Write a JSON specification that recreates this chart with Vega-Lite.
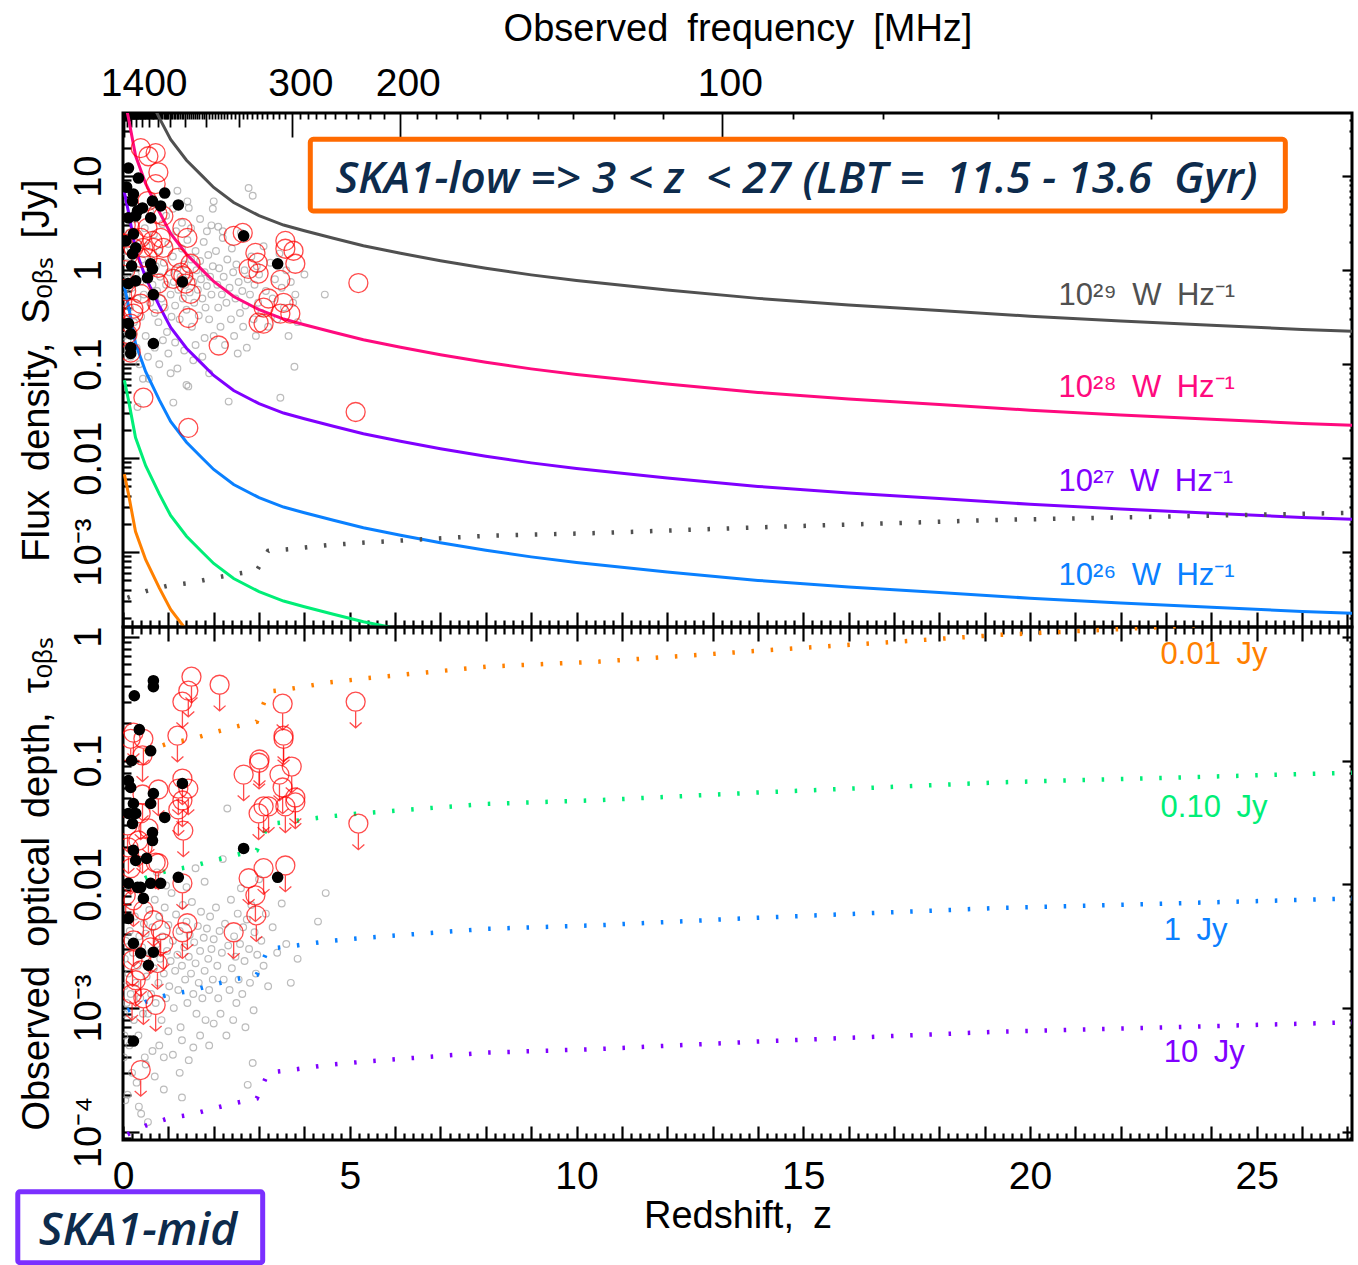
{
"$schema": "https://vega.github.io/schema/vega-lite/v6.json",
"background": "white",
"padding": {"left": 13, "top": 8, "right": 0, "bottom": 0},
"resolve": {"scale": {"color": "independent"}},
"config": {
  "font": "Liberation Sans",
  "view": {"stroke": "black", "strokeWidth": 3},
  "axis": {"domain": false, "grid": false, "labelFont": "Liberation Sans", "titleFont": "Liberation Sans", "labelFontSize": 39, "titleFontSize": 38, "titleFontWeight": "normal", "labelColor": "black", "titleColor": "black", "tickColor": "black", "tickWidth": 2.2, "labelOverlap": false, "labelFlush": false, "labelBound": false, "labelLimit": 0}
},
"datasets": {
  "curves": [
    {"z":0.03,"L29":676.1,"L28":67.61,"L27":6.761,"L26":0.6761,"L25":0.06761,"L24":0.006761},
    {"z":0.12,"L29":416.9,"L28":41.69,"L27":4.169,"L26":0.4169,"L25":0.04169,"L24":0.004169},
    {"z":0.276,"L29":166.0,"L28":16.60,"L27":1.660,"L26":0.1660,"L25":0.01660,"L24":0.001660},
    {"z":0.5,"L29":83.18,"L28":8.318,"L27":0.8318,"L26":0.08318,"L25":0.008318,"L24":0.0008318},
    {"z":0.8,"L29":41.69,"L28":4.169,"L27":0.4169,"L26":0.04169,"L25":0.004169,"L24":0.0004169},
    {"z":1.05,"L29":24.55,"L28":2.455,"L27":0.2455,"L26":0.02455,"L25":0.002455,"L24":0.0002455},
    {"z":1.4,"L29":14.79,"L28":1.479,"L27":0.1479,"L26":0.01479,"L25":0.001479,"L24":0.0001479},
    {"z":1.75,"L29":10,"L28":1,"L27":0.1,"L26":0.01,"L25":0.001,"L24":0.0001},
    {"z":2.0,"L29":7.586,"L28":0.7586,"L27":0.07586,"L26":0.007586,"L25":0.0007586,"L24":0.00007586},
    {"z":2.44,"L29":5.248,"L28":0.5248,"L27":0.05248,"L26":0.005248,"L25":0.0005248,"L24":0.00005248},
    {"z":3.0,"L29":3.802,"L28":0.3802,"L27":0.03802,"L26":0.003802,"L25":0.0003802,"L24":0.00003802},
    {"z":3.54,"L29":3.020,"L28":0.3020,"L27":0.03020,"L26":0.003020,"L25":0.0003020,"L24":0.00003020},
    {"z":4.0,"L29":2.630,"L28":0.2630,"L27":0.02630,"L26":0.002630,"L25":0.0002630,"L24":0.00002630},
    {"z":4.64,"L29":2.188,"L28":0.2188,"L27":0.02188,"L26":0.002188,"L25":0.0002188,"L24":0.00002188},
    {"z":5.3,"L29":1.820,"L28":0.1820,"L27":0.01820,"L26":0.001820,"L25":0.0001820,"L24":0.00001820},
    {"z":6.12,"L29":1.514,"L28":0.1514,"L27":0.01514,"L26":0.001514,"L25":0.0001514,"L24":0.00001514},
    {"z":7,"L29":1.259,"L28":0.1259,"L27":0.01259,"L26":0.001259,"L25":0.0001259,"L24":0.00001259},
    {"z":8,"L29":1.047,"L28":0.1047,"L27":0.01047,"L26":0.001047,"L25":0.0001047,"L24":0.00001047},
    {"z":9,"L29":0.8913,"L28":0.08913,"L27":0.008913,"L26":0.0008913,"L25":0.00008913,"L24":0.000008913},
    {"z":10,"L29":0.7762,"L28":0.07762,"L27":0.007762,"L26":0.0007762,"L25":0.00007762,"L24":0.000007762},
    {"z":12,"L29":0.6166,"L28":0.06166,"L27":0.006166,"L26":0.0006166,"L25":0.00006166,"L24":0.000006166},
    {"z":14,"L29":0.5012,"L28":0.05012,"L27":0.005012,"L26":0.0005012,"L25":0.00005012,"L24":0.000005012},
    {"z":16,"L29":0.4266,"L28":0.04266,"L27":0.004266,"L26":0.0004266,"L25":0.00004266,"L24":0.000004266},
    {"z":18,"L29":0.3715,"L28":0.03715,"L27":0.003715,"L26":0.0003715,"L25":0.00003715,"L24":0.000003715},
    {"z":20,"L29":0.3236,"L28":0.03236,"L27":0.003236,"L26":0.0003236,"L25":0.00003236,"L24":0.000003236},
    {"z":22,"L29":0.2884,"L28":0.02884,"L27":0.002884,"L26":0.0002884,"L25":0.00002884,"L24":0.000002884},
    {"z":24,"L29":0.2600,"L28":0.02600,"L27":0.002600,"L26":0.0002600,"L25":0.00002600,"L24":0.000002600},
    {"z":26,"L29":0.2344,"L28":0.02344,"L27":0.002344,"L26":0.0002344,"L25":0.00002344,"L24":0.000002344},
    {"z":27.1,"L29":0.2239,"L28":0.02239,"L27":0.002239,"L26":0.0002239,"L25":0.00002239,"L24":0.000002239}
  ],
  "limits": [
    {"z":0.1,"Slim":0.000327,"t001":0.1004,"t010":0.0096,"t1":0.000955,"t10":0.0000955},
    {"z":0.5,"Slim":0.000384,"t001":0.119,"t010":0.01128,"t1":0.001122,"t10":0.0001122},
    {"z":1.0,"Slim":0.000441,"t001":0.1379,"t010":0.01296,"t1":0.001288,"t10":0.0001288},
    {"z":1.5,"Slim":0.000472,"t001":0.1485,"t010":0.0139,"t1":0.00138,"t10":0.000138},
    {"z":2.0,"Slim":0.00053,"t001":0.1683,"t010":0.01561,"t1":0.001549,"t10":0.0001549},
    {"z":2.5,"Slim":0.000588,"t001":0.1885,"t010":0.01733,"t1":0.001718,"t10":0.0001718},
    {"z":2.95,"Slim":0.000637,"t001":0.206,"t010":0.0188,"t1":0.001862,"t10":0.0001862},
    {"z":3.2,"Slim":0.001033,"t001":0.3595,"t010":0.03067,"t1":0.00302,"t10":0.000302},
    {"z":3.7,"Slim":0.001081,"t001":0.38,"t010":0.03213,"t1":0.003162,"t10":0.0003162},
    {"z":4.5,"Slim":0.001186,"t001":0.4257,"t010":0.03528,"t1":0.003467,"t10":0.0003467},
    {"z":5.4,"Slim":0.001271,"t001":0.4644,"t010":0.03786,"t1":0.003715,"t10":0.0003715},
    {"z":6.5,"Slim":0.001362,"t001":0.5077,"t010":0.04063,"t1":0.003981,"t10":0.0003981},
    {"z":8,"Slim":0.001493,"t001":0.5736,"t010":0.04463,"t1":0.004365,"t10":0.0004365},
    {"z":10.5,"Slim":0.0016,"t001":0.6305,"t010":0.0479,"t1":0.004677,"t10":0.0004677},
    {"z":14,"Slim":0.001837,"t001":0.77,"t010":0.05519,"t1":0.00537,"t10":0.000537},
    {"z":19.35,"Slim":0.002208,"t001":1.0376,"t010":0.06675,"t1":0.006457,"t10":0.0006457},
    {"z":23,"Slim":0.002393,"t001":1.2033,"t010":0.07256,"t1":0.006998,"t10":0.0006998},
    {"z":27.1,"Slim":0.002625,"t001":1.458,"t010":0.07982,"t1":0.007674,"t10":0.0007674}
  ],
  "topGray": [
    {"z":0.52,"S":1.8},{"z":0.55,"S":0.9},{"z":0.6,"S":0.45},{"z":0.62,"S":1.3},{"z":0.65,"S":0.7},{"z":0.68,"S":2.4},{"z":0.7,"S":0.35},{"z":0.72,"S":1.1},{"z":0.75,"S":0.6},{"z":0.78,"S":0.28},{"z":0.8,"S":1.6},{"z":0.82,"S":0.85},{"z":0.85,"S":0.5},{"z":0.87,"S":3.1},{"z":0.9,"S":1.2},{"z":0.92,"S":0.4},{"z":0.95,"S":0.7},{"z":0.97,"S":0.22},{"z":1.0,"S":1.9},{"z":1.02,"S":0.95},{"z":1.05,"S":0.55},{"z":1.07,"S":0.32},{"z":1.1,"S":1.4},{"z":1.12,"S":0.75},{"z":1.15,"S":0.42},{"z":1.17,"S":2.6},{"z":1.2,"S":1.05},{"z":1.22,"S":0.62},{"z":1.25,"S":0.3},{"z":1.27,"S":0.85},{"z":1.3,"S":1.7},{"z":1.32,"S":0.5},{"z":1.35,"S":1.15},{"z":1.37,"S":0.7},{"z":1.4,"S":0.38},{"z":1.42,"S":2.1},{"z":1.45,"S":0.9},{"z":1.47,"S":0.58},{"z":1.5,"S":1.3},{"z":1.52,"S":0.25},{"z":1.55,"S":0.75},{"z":1.57,"S":0.45},{"z":1.6,"S":1.6},{"z":1.62,"S":1.0},{"z":1.65,"S":0.62},{"z":1.67,"S":0.33},{"z":1.7,"S":1.25},{"z":1.72,"S":0.8},{"z":1.75,"S":0.5},{"z":1.78,"S":2.0},{"z":1.8,"S":0.95},{"z":1.82,"S":0.4},{"z":1.85,"S":0.68},{"z":1.88,"S":1.45},{"z":1.9,"S":0.3},{"z":1.92,"S":0.85},{"z":1.95,"S":0.55},{"z":1.98,"S":1.1},{"z":2.0,"S":0.2},
    {"z":0.05,"S":0.3},{"z":0.07,"S":0.55},{"z":0.08,"S":1.2},{"z":0.1,"S":0.18},{"z":0.12,"S":0.8},{"z":0.14,"S":2.5},{"z":0.15,"S":0.4},{"z":0.17,"S":0.12},{"z":0.2,"S":0.65},{"z":0.22,"S":1.5},{"z":0.24,"S":0.28},{"z":0.26,"S":3.5},{"z":0.28,"S":0.9},{"z":0.3,"S":0.15},{"z":0.32,"S":0.5},{"z":0.34,"S":1.9},{"z":0.36,"S":0.1},{"z":0.38,"S":0.75},{"z":0.4,"S":0.32},{"z":0.42,"S":1.3},{"z":0.44,"S":0.07},{"z":0.46,"S":0.55},{"z":0.48,"S":2.8},{"z":0.5,"S":0.2},
    {"z":0.55,"S":0.12},{"z":0.6,"S":4.2},{"z":0.7,"S":0.15},{"z":0.75,"S":5.0},{"z":0.8,"S":0.1},{"z":0.88,"S":0.18},{"z":0.95,"S":3.8},{"z":1.0,"S":0.13},{"z":1.05,"S":0.08},{"z":1.1,"S":4.5},{"z":1.15,"S":0.17},{"z":1.2,"S":0.09},{"z":1.3,"S":3.2},{"z":1.35,"S":0.14},{"z":1.4,"S":0.06},{"z":1.5,"S":2.8},{"z":1.55,"S":0.11},{"z":1.6,"S":0.16},{"z":1.7,"S":3.5},{"z":1.75,"S":0.12},{"z":1.8,"S":0.19},{"z":1.85,"S":2.6},{"z":1.9,"S":0.08},{"z":1.95,"S":3.0},
    {"z":2.05,"S":1.6},{"z":2.08,"S":0.7},{"z":2.1,"S":0.4},{"z":2.12,"S":1.05},{"z":2.15,"S":0.25},{"z":2.18,"S":0.55},{"z":2.2,"S":2.2},{"z":2.22,"S":0.85},{"z":2.25,"S":0.16},{"z":2.28,"S":0.45},{"z":2.3,"S":1.3},{"z":2.33,"S":0.04},{"z":2.35,"S":0.65},{"z":2.38,"S":0.3},{"z":2.4,"S":1.7},{"z":2.43,"S":0.95},{"z":2.45,"S":0.2},{"z":2.48,"S":0.5},{"z":2.5,"S":1.15},{"z":2.53,"S":0.13},{"z":2.55,"S":0.75},{"z":2.58,"S":0.35},{"z":2.6,"S":2.5},{"z":2.63,"S":0.6},{"z":2.65,"S":0.25},{"z":2.68,"S":1.0},{"z":2.7,"S":0.42},{"z":2.73,"S":0.15},{"z":2.75,"S":0.8},{"z":2.77,"S":7.5},{"z":2.8,"S":0.55},{"z":2.83,"S":1.4},{"z":2.86,"S":6.2},{"z":2.88,"S":0.3},{"z":2.9,"S":0.7},{"z":2.93,"S":0.2},{"z":2.95,"S":1.1},{"z":2.98,"S":0.45},
    {"z":3.0,"S":0.9},{"z":3.05,"S":0.35},{"z":3.1,"S":1.8},{"z":3.15,"S":0.6},{"z":3.2,"S":0.25},{"z":3.25,"S":1.2},{"z":3.3,"S":0.5},{"z":3.35,"S":0.8},{"z":3.4,"S":0.3},{"z":3.45,"S":1.5},{"z":3.5,"S":0.65},{"z":3.55,"S":0.4},{"z":3.6,"S":1.0},{"z":3.65,"S":0.2},{"z":3.7,"S":0.75},{"z":3.75,"S":0.45},{"z":3.8,"S":0.55},{"z":3.85,"S":0.28},{"z":4.0,"S":0.9},{"z":4.45,"S":0.55},
    {"z":0.02,"S":0.2},{"z":0.03,"S":0.12},{"z":0.02,"S":0.45},{"z":0.04,"S":0.8},{"z":0.03,"S":1.6},
    {"z":1.2,"S":7.0},{"z":1.42,"S":5.4},{"z":1.45,"S":4.6},{"z":2.0,"S":5.4},{"z":1.98,"S":4.5},{"z":2.1,"S":2.9},{"z":2.2,"S":2.6},
    {"z":0.32,"S":0.035},{"z":0.57,"S":0.07},{"z":1.11,"S":0.039},{"z":1.44,"S":0.058},{"z":3.47,"S":0.044},{"z":3.78,"S":0.094}
  ],
  "topRed": [
    {"z":0.39,"S":19.9},{"z":0.56,"S":16.3},{"z":0.72,"S":17.6},{"z":0.78,"S":11.0},{"z":0.72,"S":8.24},{"z":0.54,"S":5.44},{"z":0.76,"S":3.96},{"z":0.89,"S":3.78},{"z":0.54,"S":2.82},{"z":1.31,"S":2.82},{"z":1.42,"S":2.21},{"z":2.44,"S":2.32},{"z":2.64,"S":2.49},{"z":3.58,"S":2.05},{"z":3.76,"S":1.61},{"z":3.58,"S":1.69},{"z":2.92,"S":1.53},{"z":2.97,"S":1.2},{"z":2.77,"S":1.03},{"z":2.99,"S":0.92},{"z":3.8,"S":1.17},{"z":5.19,"S":0.73},{"z":3.47,"S":0.79},{"z":1.49,"S":1.17},{"z":1.2,"S":1.35},{"z":0.78,"S":1.06},{"z":0.54,"S":1.35},{"z":0.39,"S":1.35},{"z":0.23,"S":2.21},{"z":0.39,"S":2.21},{"z":0.65,"S":2.05},{"z":0.83,"S":2.21},{"z":0.45,"S":1.73},{"z":0.67,"S":1.73},{"z":0.89,"S":1.73},{"z":0.23,"S":1.73},{"z":1.27,"S":0.94},{"z":1.33,"S":0.87},{"z":1.38,"S":0.72},{"z":1.49,"S":0.56},{"z":1.11,"S":0.81},{"z":0.78,"S":0.72},{"z":0.39,"S":0.56},{"z":0.39,"S":0.44},{"z":0.76,"S":0.44},{"z":0.23,"S":0.39},{"z":0.23,"S":0.345},{"z":3.21,"S":0.5},{"z":3.54,"S":0.45},{"z":3.1,"S":0.4},{"z":2.99,"S":0.277},{"z":3.1,"S":0.27},{"z":3.47,"S":0.345},{"z":3.69,"S":0.345},{"z":1.44,"S":0.31},{"z":2.11,"S":0.158},{"z":0.1,"S":0.21},{"z":0.17,"S":0.27},{"z":0.17,"S":0.133},{"z":0.45,"S":0.044},{"z":1.44,"S":0.021},{"z":5.13,"S":0.031},
    {"z":0.05,"S":1.0},{"z":0.07,"S":0.6},{"z":0.1,"S":1.4},{"z":0.06,"S":3.0},{"z":0.15,"S":2.9}
  ],
  "topBlack": [
    {"z":0.12,"S":12.2},{"z":0.34,"S":9.55},{"z":0.23,"S":6.46},{"z":0.21,"S":5.44},{"z":0.92,"S":6.62},{"z":1.22,"S":4.94},{"z":0.32,"S":4.27},{"z":0.43,"S":4.59},{"z":0.65,"S":5.44},{"z":0.83,"S":4.82},{"z":0.12,"S":3.6},{"z":0.28,"S":3.78},{"z":0.61,"S":3.6},{"z":0.23,"S":2.43},{"z":0.28,"S":1.73},{"z":0.21,"S":1.49},{"z":2.66,"S":2.32},{"z":3.41,"S":1.17},{"z":0.19,"S":1.11},{"z":0.61,"S":1.17},{"z":0.65,"S":1.03},{"z":0.54,"S":0.83},{"z":1.31,"S":0.75},{"z":0.12,"S":0.72},{"z":0.28,"S":0.77},{"z":0.67,"S":0.55},{"z":0.12,"S":0.27},{"z":0.17,"S":0.21},{"z":0.67,"S":0.166},{"z":0.17,"S":0.15},{"z":0.17,"S":0.13},{"z":0.08,"S":7.65},{"z":0.06,"S":2.05}
  ],
  "botGray": [
    {"z":0.5,"tau":0.004},{"z":0.52,"tau":0.0018},{"z":0.55,"tau":0.0009},{"z":0.58,"tau":0.0062},{"z":0.6,"tau":0.0028},{"z":0.62,"tau":0.0013},{"z":0.65,"tau":0.0045},{"z":0.68,"tau":0.0021},{"z":0.7,"tau":0.0075},{"z":0.72,"tau":0.0011},{"z":0.75,"tau":0.0033},{"z":0.78,"tau":0.0016},{"z":0.8,"tau":0.0055},{"z":0.82,"tau":0.0025},{"z":0.85,"tau":0.0008},{"z":0.87,"tau":0.0038},{"z":0.9,"tau":0.0019},{"z":0.92,"tau":0.0065},{"z":0.95,"tau":0.0012},{"z":0.97,"tau":0.0029},{"z":1.0,"tau":0.0047},{"z":1.02,"tau":0.0015},{"z":1.05,"tau":0.0024},{"z":1.07,"tau":0.0085},{"z":1.1,"tau":0.0035},{"z":1.12,"tau":0.001},{"z":1.15,"tau":0.002},{"z":1.17,"tau":0.0057},{"z":1.2,"tau":0.0027},{"z":1.22,"tau":0.0014},{"z":1.25,"tau":0.0042},{"z":1.27,"tau":0.0007},{"z":1.3,"tau":0.0022},{"z":1.32,"tau":0.0068},{"z":1.35,"tau":0.0031},{"z":1.37,"tau":0.0017},{"z":1.4,"tau":0.005},{"z":1.42,"tau":0.0011},{"z":1.45,"tau":0.0026},{"z":1.47,"tau":0.0039},{"z":1.5,"tau":0.0019},{"z":1.52,"tau":0.0072},{"z":1.55,"tau":0.0013},{"z":1.57,"tau":0.0034},{"z":1.6,"tau":0.0023},{"z":1.62,"tau":0.0009},{"z":1.65,"tau":0.0046},{"z":1.67,"tau":0.0016},{"z":1.7,"tau":0.0029},{"z":1.72,"tau":0.006},{"z":1.75,"tau":0.0012},{"z":1.78,"tau":0.0037},{"z":1.8,"tau":0.002},{"z":1.82,"tau":0.0008},{"z":1.85,"tau":0.0044},{"z":1.88,"tau":0.0025},{"z":1.9,"tau":0.0014},{"z":1.92,"tau":0.0055},{"z":1.95,"tau":0.003},{"z":1.98,"tau":0.0017},{"z":2.0,"tau":0.0036},
    {"z":0.02,"tau":0.0009},{"z":0.03,"tau":0.0015},{"z":0.02,"tau":0.0004},{"z":0.04,"tau":0.0025},{"z":0.03,"tau":0.0006},{"z":0.05,"tau":0.00018},{"z":0.06,"tau":0.0035},{"z":0.08,"tau":0.0011},{"z":0.1,"tau":0.0002},{"z":0.12,"tau":0.0019},{"z":0.14,"tau":0.0005},{"z":0.15,"tau":0.0042},{"z":0.17,"tau":0.0013},{"z":0.2,"tau":0.0003},{"z":0.22,"tau":0.0028},{"z":0.24,"tau":0.0008},{"z":0.26,"tau":0.0055},{"z":0.28,"tau":0.0016},{"z":0.3,"tau":0.00025},{"z":0.32,"tau":0.0022},{"z":0.34,"tau":0.0006},{"z":0.36,"tau":0.0038},{"z":0.38,"tau":0.0012},{"z":0.4,"tau":0.00014},{"z":0.42,"tau":0.0031},{"z":0.44,"tau":0.0009},{"z":0.46,"tau":0.0048},{"z":0.48,"tau":0.0004},
    {"z":0.5,"tau":0.00035},{"z":0.6,"tau":0.0105},{"z":0.65,"tau":0.00045},{"z":0.7,"tau":0.00028},{"z":0.75,"tau":0.0125},{"z":0.8,"tau":0.0005},{"z":0.9,"tau":0.0004},{"z":0.95,"tau":0.0098},{"z":1.0,"tau":0.00065},{"z":1.1,"tau":0.00042},{"z":1.2,"tau":0.0115},{"z":1.25,"tau":0.0003},{"z":1.3,"tau":0.00055},{"z":1.4,"tau":0.0095},{"z":1.45,"tau":0.00038},{"z":1.55,"tau":0.00048},{"z":1.6,"tau":0.0135},{"z":1.7,"tau":0.0006},{"z":1.8,"tau":0.0105},{"z":1.9,"tau":0.0005},{"z":2.0,"tau":0.00075},
    {"z":2.05,"tau":0.0065},{"z":2.08,"tau":0.0022},{"z":2.1,"tau":0.0012},{"z":2.13,"tau":0.0042},{"z":2.15,"tau":0.0009},{"z":2.18,"tau":0.0028},{"z":2.2,"tau":0.016},{"z":2.22,"tau":0.0017},{"z":2.25,"tau":0.0048},{"z":2.28,"tau":0.0006},{"z":2.3,"tau":0.041},{"z":2.32,"tau":0.0032},{"z":2.35,"tau":0.0014},{"z":2.38,"tau":0.0075},{"z":2.4,"tau":0.0021},{"z":2.43,"tau":0.0008},{"z":2.45,"tau":0.0038},{"z":2.48,"tau":0.0026},{"z":2.5,"tau":0.0011},{"z":2.53,"tau":0.0058},{"z":2.55,"tau":0.0017},{"z":2.58,"tau":0.0033},{"z":2.6,"tau":0.0093},{"z":2.63,"tau":0.0013},{"z":2.65,"tau":0.0045},{"z":2.68,"tau":0.0024},{"z":2.7,"tau":0.0007},{"z":2.73,"tau":0.0052},{"z":2.75,"tau":0.00024},{"z":2.78,"tau":0.003},{"z":2.8,"tau":0.0016},{"z":2.83,"tau":0.0068},{"z":2.86,"tau":0.00036},{"z":2.88,"tau":0.00096},{"z":2.9,"tau":0.0041},{"z":2.93,"tau":0.0019},{"z":2.96,"tau":0.0027},{"z":3.0,"tau":0.011},{"z":3.05,"tau":0.0035},{"z":3.1,"tau":0.0022},{"z":3.15,"tau":0.0058},{"z":3.2,"tau":0.0015},{"z":3.3,"tau":0.0045},{"z":3.4,"tau":0.0028},{"z":3.5,"tau":0.007},{"z":3.6,"tau":0.0033},{"z":3.7,"tau":0.0016},{"z":3.85,"tau":0.0025},{"z":4.3,"tau":0.005},{"z":4.47,"tau":0.0085},
    {"z":0.55,"tau":0.00012},{"z":0.35,"tau":0.00016},{"z":0.9,"tau":0.00022},{"z":1.3,"tau":0.00019}
  ],
  "botRed": [
    {"z":1.51,"tau":0.476},{"z":1.44,"tau":0.367},{"z":1.31,"tau":0.299},{"z":2.13,"tau":0.41},{"z":1.2,"tau":0.159},{"z":0.23,"tau":0.168},{"z":0.17,"tau":0.15},{"z":0.45,"tau":0.15},{"z":0.43,"tau":0.11},{"z":3.52,"tau":0.288},{"z":3.54,"tau":0.159},{"z":3.54,"tau":0.15},{"z":5.13,"tau":0.299},{"z":3.01,"tau":0.102},{"z":3.0,"tau":0.096},{"z":2.66,"tau":0.077},{"z":3.45,"tau":0.077},{"z":3.72,"tau":0.0895},{"z":3.52,"tau":0.0606},{"z":1.31,"tau":0.0716},{"z":1.22,"tau":0.0594},{"z":1.44,"tau":0.0594},{"z":0.78,"tau":0.0584},{"z":0.43,"tau":0.0532},{"z":1.31,"tau":0.0476},{"z":1.22,"tau":0.0403},{"z":1.33,"tau":0.0272},{"z":3.8,"tau":0.0503},{"z":3.8,"tau":0.0459},{"z":3.1,"tau":0.0426},{"z":3.21,"tau":0.0426},{"z":2.99,"tau":0.0374},{"z":3.58,"tau":0.0426},{"z":5.19,"tau":0.031},{"z":0.39,"tau":0.0374},{"z":0.34,"tau":0.0226},{"z":0.43,"tau":0.0199},{"z":0.12,"tau":0.0199},{"z":0.72,"tau":0.015},{"z":0.78,"tau":0.0148},{"z":3.1,"tau":0.0135},{"z":3.58,"tau":0.0142},{"z":2.77,"tau":0.0112},{"z":1.31,"tau":0.0102},{"z":2.92,"tau":0.00815},{"z":2.94,"tau":0.00562},{"z":1.42,"tau":0.00485},{"z":1.31,"tau":0.0041},{"z":2.44,"tau":0.0041},{"z":0.72,"tau":0.00106},{"z":0.39,"tau":0.000316},{"z":0.23,"tau":0.00743},{"z":0.45,"tau":0.00617},{"z":0.67,"tau":0.00513},{"z":0.83,"tau":0.00426},{"z":0.23,"tau":0.00353},{"z":0.61,"tau":0.0031},{"z":0.89,"tau":0.00334},{"z":0.21,"tau":0.00244},{"z":0.76,"tau":0.00231},{"z":0.39,"tau":0.00202},{"z":0.28,"tau":0.00168},{"z":0.1,"tau":0.0299},{"z":0.17,"tau":0.0135},{"z":0.56,"tau":0.0283},{"z":0.06,"tau":0.00815},{"z":0.2,"tau":0.0013},{"z":0.45,"tau":0.0012}
  ],
  "botBlack": [
    {"z":0.67,"tau":0.442},{"z":0.67,"tau":0.395},{"z":0.25,"tau":0.334},{"z":0.36,"tau":0.178},{"z":0.61,"tau":0.12},{"z":0.19,"tau":0.1},{"z":1.31,"tau":0.0653},{"z":0.12,"tau":0.069},{"z":0.17,"tau":0.0606},{"z":0.67,"tau":0.0542},{"z":0.61,"tau":0.045},{"z":0.23,"tau":0.045},{"z":0.92,"tau":0.0347},{"z":0.12,"tau":0.0374},{"z":0.28,"tau":0.0374},{"z":0.21,"tau":0.031},{"z":0.65,"tau":0.0262},{"z":0.65,"tau":0.0226},{"z":0.23,"tau":0.0188},{"z":0.52,"tau":0.0162},{"z":2.66,"tau":0.0195},{"z":1.22,"tau":0.0114},{"z":3.41,"tau":0.0114},{"z":0.28,"tau":0.0156},{"z":0.12,"tau":0.0102},{"z":0.32,"tau":0.00946},{"z":0.61,"tau":0.0102},{"z":0.83,"tau":0.0102},{"z":0.39,"tau":0.00946},{"z":0.45,"tau":0.0077},{"z":0.12,"tau":0.0053},{"z":0.23,"tau":0.00334},{"z":0.39,"tau":0.00278},{"z":0.67,"tau":0.00283},{"z":0.56,"tau":0.00222},{"z":0.23,"tau":0.000542}
  ]
},
"spacing": 0,
"bounds": "flush",
"vconcat": [
  {
    "width": 1229, "height": 514,
    "resolve": {"axis": {"x": "independent", "y": "independent"}},
    "layer": [
      {
        "data": {"name": "topGray"},
        "mark": {"type": "point", "shape": "circle", "filled": false, "color": "#a0a0a0", "strokeWidth": 1.2, "size": 45, "clip": true},
        "encoding": {
          "x": {"field": "z", "type": "quantitative", "scale": {"domain": [0, 27.1], "nice": false, "zero": false},
            "axis": {"orient": "bottom", "labels": false, "title": null,
              "values": [0,0.2,0.4,0.6,0.8,1,1.2,1.4,1.6,1.8,2,2.2,2.4,2.6,2.8,3,3.2,3.4,3.6,3.8,4,4.2,4.4,4.6,4.8,5,5.2,5.4,5.6,5.8,6,6.2,6.4,6.6,6.8,7,7.2,7.4,7.6,7.8,8,8.2,8.4,8.6,8.8,9,9.2,9.4,9.6,9.8,10,10.2,10.4,10.6,10.8,11,11.2,11.4,11.6,11.8,12,12.2,12.4,12.6,12.8,13,13.2,13.4,13.6,13.8,14,14.2,14.4,14.6,14.8,15,15.2,15.4,15.6,15.8,16,16.2,16.4,16.6,16.8,17,17.2,17.4,17.6,17.8,18,18.2,18.4,18.6,18.8,19,19.2,19.4,19.6,19.8,20,20.2,20.4,20.6,20.8,21,21.2,21.4,21.6,21.8,22,22.2,22.4,22.6,22.8,23,23.2,23.4,23.6,23.8,24,24.2,24.4,24.6,24.8,25,25.2,25.4,25.6,25.8,26,26.2,26.4,26.6,26.8,27],
              "tickSize": {"condition": {"test": "abs(datum.value - round(datum.value)) < 0.01", "value": -15}, "value": -7}}},
          "y": {"field": "S", "type": "quantitative", "scale": {"type": "log", "domain": [0.00016, 47], "nice": false},
            "axis": {"orient": "left", "title": "Flux\u2002density,\u2002Sₒᵦₛ\u2002[Jy]", "titlePadding": 6.5, "labelFontSize": 38,
              "values": [0.0002,0.0003,0.0004,0.0005,0.0006,0.0007,0.0008,0.0009,0.001,0.002,0.003,0.004,0.005,0.006,0.007,0.008,0.009,0.01,0.02,0.03,0.04,0.05,0.06,0.07,0.08,0.09,0.1,0.2,0.3,0.4,0.5,0.6,0.7,0.8,0.9,1,2,3,4,5,6,7,8,9,10,20,30,40],
              "labelExpr": "abs(log(datum.value)/LN10 - round(log(datum.value)/LN10)) > 0.01 ? '' : datum.value > 5 ? '10' : datum.value > 0.5 ? '1' : datum.value > 0.05 ? '0.1' : datum.value > 0.005 ? '0.01' : '10⁻³'",
              "labelAngle": 270, "labelAlign": "center", "labelBaseline": "alphabetic", "labelPadding": 38.5,
              "tickSize": {"condition": {"test": "abs(log(datum.value)/LN10 - round(log(datum.value)/LN10)) < 0.01", "value": -16}, "value": -8}}}
        }
      },
      {
        "data": {"name": "curves"},
        "transform": [{"fold": ["L29", "L28", "L27", "L26", "L25", "L24"], "as": ["L", "S"]}],
        "mark": {"type": "line", "strokeWidth": 3, "clip": true},
        "encoding": {
          "x": {"field": "z", "type": "quantitative",
            "axis": {"orient": "top", "title": "Observed\u2002frequency\u2002[MHz]", "titlePadding": -2,
              "values": [0.01458,0.02188,0.02928,0.03679,0.04442,0.05215,0.06,0.06797,0.07607,0.08428,0.09262,0.10109,0.10969,0.11843,0.12731,0.13632,0.14549,0.1548,0.16427,0.17389,0.18367,0.19362,0.20373,0.21402,0.22449,0.23514,0.24597,0.257,0.26822,0.27965,0.29128,0.30313,0.31519,0.32748,0.34001,0.35277,0.36578,0.37903,0.39255,0.40634,0.42041,0.43475,0.44939,0.46434,0.47959,0.49516,0.51107,0.52732,0.54392,0.56089,0.57823,0.59596,0.6141,0.63265,0.65164,0.67107,0.69096,0.71133,0.7322,0.75359,0.77551,0.79798,0.82103,0.84468,0.86895,0.89387,0.91947,0.94576,0.97279,1.00057,1.02915,1.05856,1.08883,1.12001,1.15213,1.18524,1.21938,1.25461,1.29098,1.32853,1.36734,1.40747,1.44897,1.49194,1.53644,1.58256,1.63038,1.68001,1.73155,1.78511,1.84081,1.89879,1.95918,2.02214,2.08784,2.15646,2.2282,2.30327,2.38192,2.4644,2.55102,2.64207,2.73791,2.83894,2.94557,3.0583,3.17766,3.30426,3.43877,3.58195,3.73469,3.89795,4.07288,4.26076,4.4631,4.68162,4.91836,5.17568,5.45639,5.76384,6.10203,6.47582,6.89114,7.35533,7.87754,8.46937,9.14576,9.9262,10.83672,11.91278,13.20406,14.78229,16.75508,19.29151,22.67343],
              "labelExpr": "datum.value == 0.01458 ? '1400' : datum.value == 3.73469 ? '300' : datum.value == 6.10203 ? '200' : datum.value == 13.20406 ? '100' : ''",
              "labelPadding": 42, "labelBaseline": "alphabetic",
              "labelOffset": {"condition": {"test": "datum.value == 0.01458", "value": 20}, "value": 8},
              "tickWidth": 1.8,
              "tickSize": {"condition": [{"test": "indexof([0.01458,3.73469,6.10203,13.20406], datum.value) >= 0", "value": -24}, {"test": "indexof([0.09262,0.18367,0.29128,0.42041,0.57823,0.77551,1.02915,1.36734,1.84081,2.55102], datum.value) >= 0", "value": -14}], "value": -6}}},
          "y": {"field": "S", "type": "quantitative",
            "axis": {"orient": "right", "labels": false, "title": null,
              "values": [0.0002,0.0003,0.0004,0.0005,0.0006,0.0007,0.0008,0.0009,0.001,0.002,0.003,0.004,0.005,0.006,0.007,0.008,0.009,0.01,0.02,0.03,0.04,0.05,0.06,0.07,0.08,0.09,0.1,0.2,0.3,0.4,0.5,0.6,0.7,0.8,0.9,1,2,3,4,5,6,7,8,9,10,20,30,40],
              "tickSize": {"condition": {"test": "abs(log(datum.value)/LN10 - round(log(datum.value)/LN10)) < 0.01", "value": -10}, "value": -3}}},
          "color": {"field": "L", "type": "nominal", "legend": null,
            "scale": {"domain": ["L29", "L28", "L27", "L26", "L25", "L24"], "range": ["#505050", "#ff0a7e", "#8000ff", "#0a80ff", "#00ee77", "#ff8000"]}}
        }
      },
      {
        "data": {"name": "limits"},
        "mark": {"type": "line", "color": "#505050", "strokeWidth": 4.5, "strokeDash": [2.5, 16.7], "strokeCap": "butt", "clip": true},
        "encoding": {
          "x": {"field": "z", "type": "quantitative", "axis": null},
          "y": {"field": "Slim", "type": "quantitative", "axis": null}
        }
      },
      {
        "data": {"name": "topRed"},
        "mark": {"type": "point", "shape": "circle", "filled": false, "color": "#ff0000", "strokeWidth": 1.3, "size": 361, "clip": true},
        "encoding": {
          "x": {"field": "z", "type": "quantitative", "axis": null},
          "y": {"field": "S", "type": "quantitative", "axis": null}
        }
      },
      {
        "data": {"name": "topBlack"},
        "mark": {"type": "point", "shape": "circle", "filled": true, "color": "black", "opacity": 1, "size": 135, "clip": true},
        "encoding": {
          "x": {"field": "z", "type": "quantitative", "axis": null},
          "y": {"field": "S", "type": "quantitative", "axis": null}
        }
      },
      {
        "data": {"values": [{}]},
        "mark": {"type": "text", "text": "10²⁹\u2002W\u2002Hz⁻¹", "align": "left", "baseline": "alphabetic", "fontSize": 31, "font": "Liberation Sans", "color": "#505050"},
        "encoding": {"x": {"datum": 20.63, "axis": null}, "y": {"datum": 0.43, "axis": null}}
      },
      {
        "data": {"values": [{}]},
        "mark": {"type": "text", "text": "10²⁸\u2002W\u2002Hz⁻¹", "align": "left", "baseline": "alphabetic", "fontSize": 31, "font": "Liberation Sans", "color": "#ff0a7e"},
        "encoding": {"x": {"datum": 20.63, "axis": null}, "y": {"datum": 0.0443, "axis": null}}
      },
      {
        "data": {"values": [{}]},
        "mark": {"type": "text", "text": "10²⁷\u2002W\u2002Hz⁻¹", "align": "left", "baseline": "alphabetic", "fontSize": 31, "font": "Liberation Sans", "color": "#8000ff"},
        "encoding": {"x": {"datum": 20.63, "axis": null}, "y": {"datum": 0.00447, "axis": null}}
      },
      {
        "data": {"values": [{}]},
        "mark": {"type": "text", "text": "10²⁶\u2002W\u2002Hz⁻¹", "align": "left", "baseline": "alphabetic", "fontSize": 31, "font": "Liberation Sans", "color": "#0a80ff"},
        "encoding": {"x": {"datum": 20.63, "axis": null}, "y": {"datum": 0.00045, "axis": null}}
      },
      {
        "data": {"values": [{}]},
        "mark": {"type": "rect", "fill": "white", "stroke": "#ff6a00", "strokeWidth": 5, "cornerRadius": 3},
        "encoding": {"x": {"datum": 4.13, "axis": null}, "x2": {"datum": 25.63}, "y": {"datum": 24.7, "axis": null}, "y2": {"datum": 4.27}}
      },
      {
        "data": {"values": [{}]},
        "mark": {"type": "text", "text": "SKA1-low => 3 < z\u2002< 27 (LBT =\u200211.5 - 13.6\u2002Gyr)", "align": "center", "baseline": "alphabetic", "fontSize": 44, "font": "Open Sans", "fontStyle": "italic", "fontWeight": 600, "color": "#0d2b4c"},
        "encoding": {"x": {"datum": 14.85, "axis": null}, "y": {"datum": 6.62, "axis": null}}
      }
    ]
  },
  {
    "width": 1229, "height": 513,
    "resolve": {"axis": {"x": "independent", "y": "independent"}},
    "layer": [
      {
        "data": {"name": "botGray"},
        "mark": {"type": "point", "shape": "circle", "filled": false, "color": "#a0a0a0", "strokeWidth": 1.2, "size": 45, "clip": true},
        "encoding": {
          "x": {"field": "z", "type": "quantitative", "scale": {"domain": [0, 27.1], "nice": false, "zero": false},
            "axis": {"orient": "bottom", "title": "Redshift,\u2002z", "titlePadding": -6,
              "values": [0,0.2,0.4,0.6,0.8,1,1.2,1.4,1.6,1.8,2,2.2,2.4,2.6,2.8,3,3.2,3.4,3.6,3.8,4,4.2,4.4,4.6,4.8,5,5.2,5.4,5.6,5.8,6,6.2,6.4,6.6,6.8,7,7.2,7.4,7.6,7.8,8,8.2,8.4,8.6,8.8,9,9.2,9.4,9.6,9.8,10,10.2,10.4,10.6,10.8,11,11.2,11.4,11.6,11.8,12,12.2,12.4,12.6,12.8,13,13.2,13.4,13.6,13.8,14,14.2,14.4,14.6,14.8,15,15.2,15.4,15.6,15.8,16,16.2,16.4,16.6,16.8,17,17.2,17.4,17.6,17.8,18,18.2,18.4,18.6,18.8,19,19.2,19.4,19.6,19.8,20,20.2,20.4,20.6,20.8,21,21.2,21.4,21.6,21.8,22,22.2,22.4,22.6,22.8,23,23.2,23.4,23.6,23.8,24,24.2,24.4,24.6,24.8,25,25.2,25.4,25.6,25.8,26,26.2,26.4,26.6,26.8,27],
              "labelExpr": "abs(datum.value/5 - round(datum.value/5)) < 0.001 ? format(datum.value, 'd') : ''",
              "labelPadding": 31, "labelBaseline": "top",
              "tickSize": {"condition": {"test": "abs(datum.value - round(datum.value)) < 0.01", "value": -14}, "value": -7}}},
          "y": {"field": "tau", "type": "quantitative", "scale": {"type": "log", "domain": [0.000086, 1.2], "nice": false},
            "axis": {"orient": "left", "title": "Observed\u2002optical\u2002depth,\u2002τₒᵦₛ", "titlePadding": 6.5, "labelFontSize": 38,
              "values": [0.00009,0.0001,0.0002,0.0003,0.0004,0.0005,0.0006,0.0007,0.0008,0.0009,0.001,0.002,0.003,0.004,0.005,0.006,0.007,0.008,0.009,0.01,0.02,0.03,0.04,0.05,0.06,0.07,0.08,0.09,0.1,0.2,0.3,0.4,0.5,0.6,0.7,0.8,0.9,1],
              "labelExpr": "abs(log(datum.value)/LN10 - round(log(datum.value)/LN10)) > 0.01 ? '' : datum.value > 0.5 ? '1' : datum.value > 0.05 ? '0.1' : datum.value > 0.005 ? '0.01' : datum.value > 0.0005 ? '10⁻³' : '10⁻⁴'",
              "labelAngle": 270, "labelAlign": "center", "labelBaseline": "alphabetic", "labelPadding": 38.5,
              "tickSize": {"condition": {"test": "abs(log(datum.value)/LN10 - round(log(datum.value)/LN10)) < 0.01", "value": -16}, "value": -8}}}
        }
      },
      {
        "data": {"name": "limits"},
        "transform": [{"fold": ["t001", "t010", "t1", "t10"], "as": ["series", "tau"]}],
        "mark": {"type": "line", "strokeWidth": 4.5, "strokeDash": [2.5, 16.7], "strokeCap": "butt", "clip": true},
        "encoding": {
          "x": {"field": "z", "type": "quantitative",
            "axis": {"orient": "top", "labels": false, "title": null,
              "values": [0,0.2,0.4,0.6,0.8,1,1.2,1.4,1.6,1.8,2,2.2,2.4,2.6,2.8,3,3.2,3.4,3.6,3.8,4,4.2,4.4,4.6,4.8,5,5.2,5.4,5.6,5.8,6,6.2,6.4,6.6,6.8,7,7.2,7.4,7.6,7.8,8,8.2,8.4,8.6,8.8,9,9.2,9.4,9.6,9.8,10,10.2,10.4,10.6,10.8,11,11.2,11.4,11.6,11.8,12,12.2,12.4,12.6,12.8,13,13.2,13.4,13.6,13.8,14,14.2,14.4,14.6,14.8,15,15.2,15.4,15.6,15.8,16,16.2,16.4,16.6,16.8,17,17.2,17.4,17.6,17.8,18,18.2,18.4,18.6,18.8,19,19.2,19.4,19.6,19.8,20,20.2,20.4,20.6,20.8,21,21.2,21.4,21.6,21.8,22,22.2,22.4,22.6,22.8,23,23.2,23.4,23.6,23.8,24,24.2,24.4,24.6,24.8,25,25.2,25.4,25.6,25.8,26,26.2,26.4,26.6,26.8,27],
              "tickSize": {"condition": {"test": "abs(datum.value - round(datum.value)) < 0.01", "value": -14}, "value": -7}}},
          "y": {"field": "tau", "type": "quantitative",
            "axis": {"orient": "right", "labels": false, "title": null,
              "values": [0.00009,0.0001,0.0002,0.0003,0.0004,0.0005,0.0006,0.0007,0.0008,0.0009,0.001,0.002,0.003,0.004,0.005,0.006,0.007,0.008,0.009,0.01,0.02,0.03,0.04,0.05,0.06,0.07,0.08,0.09,0.1,0.2,0.3,0.4,0.5,0.6,0.7,0.8,0.9,1],
              "tickSize": {"condition": {"test": "abs(log(datum.value)/LN10 - round(log(datum.value)/LN10)) < 0.01", "value": -10}, "value": -3}}},
          "color": {"field": "series", "type": "nominal", "legend": null,
            "scale": {"domain": ["t001", "t010", "t1", "t10"], "range": ["#ff8000", "#00ee77", "#0a80ff", "#8000ff"]}}
        }
      },
      {
        "data": {"name": "botRed"},
        "mark": {"type": "point", "shape": "M1,0A1,1,0,1,1,-1,0A1,1,0,1,1,1,0M0,1L0,2.75M-0.63,2.2L0,2.75L0.63,2.2", "filled": false, "color": "#ff0000", "strokeWidth": 1.3, "size": 361, "clip": true},
        "encoding": {
          "x": {"field": "z", "type": "quantitative", "axis": null},
          "y": {"field": "tau", "type": "quantitative", "axis": null}
        }
      },
      {
        "data": {"name": "botBlack"},
        "mark": {"type": "point", "shape": "circle", "filled": true, "color": "black", "opacity": 1, "size": 135, "clip": true},
        "encoding": {
          "x": {"field": "z", "type": "quantitative", "axis": null},
          "y": {"field": "tau", "type": "quantitative", "axis": null}
        }
      },
      {
        "data": {"values": [{}]},
        "mark": {"type": "text", "text": "0.01\u2002Jy", "align": "left", "baseline": "alphabetic", "fontSize": 31, "font": "Liberation Sans", "color": "#ff8000"},
        "encoding": {"x": {"datum": 22.88, "axis": null}, "y": {"datum": 0.605, "axis": null}}
      },
      {
        "data": {"values": [{}]},
        "mark": {"type": "text", "text": "0.10\u2002Jy", "align": "left", "baseline": "alphabetic", "fontSize": 31, "font": "Liberation Sans", "color": "#00ee77"},
        "encoding": {"x": {"datum": 22.88, "axis": null}, "y": {"datum": 0.0353, "axis": null}}
      },
      {
        "data": {"values": [{}]},
        "mark": {"type": "text", "text": "1\u2002Jy", "align": "left", "baseline": "alphabetic", "fontSize": 31, "font": "Liberation Sans", "color": "#0a80ff"},
        "encoding": {"x": {"datum": 22.95, "axis": null}, "y": {"datum": 0.00353, "axis": null}}
      },
      {
        "data": {"values": [{}]},
        "mark": {"type": "text", "text": "10\u2002Jy", "align": "left", "baseline": "alphabetic", "fontSize": 31, "font": "Liberation Sans", "color": "#8000ff"},
        "encoding": {"x": {"datum": 22.95, "axis": null}, "y": {"datum": 0.000367, "axis": null}}
      },
      {
        "data": {"values": [{}]},
        "mark": {"type": "rect", "fill": "white", "stroke": "#7b2fff", "strokeWidth": 5, "cornerRadius": 2},
        "encoding": {"x": {"datum": -2.32, "axis": null}, "x2": {"datum": 3.08}, "y": {"datum": 0.0000328, "axis": null}, "y2": {"datum": 0.00000878}}
      },
      {
        "data": {"values": [{}]},
        "mark": {"type": "text", "text": "SKA1-mid", "align": "center", "baseline": "alphabetic", "fontSize": 46, "font": "Open Sans", "fontStyle": "italic", "fontWeight": 600, "color": "#0d2b4c"},
        "encoding": {"x": {"datum": 0.33, "axis": null}, "y": {"datum": 0.0000123, "axis": null}}
      }
    ]
  }
]
}
